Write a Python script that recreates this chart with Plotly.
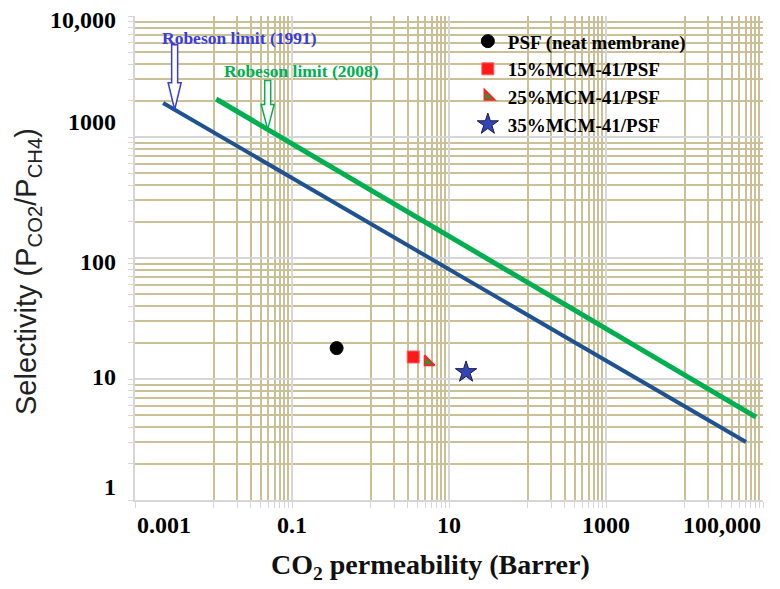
import numpy as np
import plotly.graph_objects as go

# ======================== data ========================
# Robeson upper bounds, CO2/CH4 (straight lines on log-log)
robeson1991_x = [0.00228, 60700]
robeson1991_y = [1910, 3.01]
robeson2008_x = [0.0108, 81500]
robeson2008_y = [2060, 4.85]

# membranes: CO2 permeability (Barrer) / selectivity
membrane_names = ["PSF (neat membrane)", "15%MCM-41/PSF", "25%MCM-41/PSF", "35%MCM-41/PSF"]
membrane_perm = [0.37, 3.5, 5.4, 16.5]
membrane_sel = [18.0, 15.2, 13.8, 11.4]

x_major = [0.001, 0.1, 10, 1000, 100000]
x_labels = ["0.001", "0.1", "10", "1000", "100,000"]
y_major = [1, 10, 100, 1000, 10000]
y_labels = ["1", "10", "100", "1000", "10,000"]

# minor grid like the original (base-100 axis on x, base-10 on y)
x_minor = [b * 10 * k for b in x_major[:-1] for k in range(1, 10)]
y_minor = [b * k for b in y_major[:-1] for k in range(2, 10)]

GRID_MAJOR = "#d6d6d6"
GRID_MINOR = "#cbbf95"
SERIF = "Liberation Serif"

fig = go.Figure()

# ======================== Robeson lines ========================
fig.add_trace(go.Scatter(
    x=robeson1991_x, y=robeson1991_y, mode="lines",
    line=dict(color="#1f5291", width=4), showlegend=False, hoverinfo="skip"
))
fig.add_trace(go.Scatter(
    x=robeson2008_x, y=robeson2008_y, mode="lines",
    line=dict(color="#00b050", width=5), showlegend=False, hoverinfo="skip"
))

# ======================== membrane points ========================
marker_styles = [
    dict(symbol="circle", size=13, color="black", line=dict(color="black", width=1)),
    dict(symbol="square", size=12, color="#ff1a1a", line=dict(color="#ff6060", width=1)),
    dict(symbol="triangle-sw", size=11, color="#10a040", line=dict(color="#ff2020", width=2)),
    dict(symbol="star", size=16, color="#3344bb", line=dict(color="#1a1a40", width=1)),
]
for name, px_, sy, mk in zip(membrane_names, membrane_perm, membrane_sel, marker_styles):
    fig.add_trace(go.Scatter(
        x=[px_], y=[sy], mode="markers", name=name, marker=mk
    ))


# ======================== hollow arrows + labels ========================
def point_on_line(xs, ys, x):
    lx = np.log10(xs)
    ly = np.log10(ys)
    return x, 10 ** np.interp(np.log10(x), lx, ly)


def add_arrow(x, y, color, shaft_len, head_len):
    path = (f"M 0,0 L -6.5,{head_len} L -3,{head_len} L -3,{head_len + shaft_len} "
            f"L 3,{head_len + shaft_len} L 3,{head_len} L 6.5,{head_len} Z")
    fig.add_shape(
        type="path", xref="x", yref="y", xsizemode="pixel", ysizemode="pixel",
        xanchor=x, yanchor=y, path=path,
        fillcolor="white", line=dict(color=color, width=1.5), layer="above"
    )


ax1, ay1 = point_on_line(robeson1991_x, robeson1991_y, 0.0032)
ax2, ay2 = point_on_line(robeson2008_x, robeson2008_y, 0.049)
add_arrow(ax1, ay1, "#3a3ae0", 38, 27)
add_arrow(ax2, ay2, "#00b050", 24, 25)

fig.add_annotation(
    x=np.log10(ax1), y=np.log10(ay1), xref="x", yref="y",
    text="Robeson limit (1991)", showarrow=False, xshift=65, yshift=72,
    font=dict(family=SERIF, size=17.5, color="#3a3ae0", weight="bold")
)
fig.add_annotation(
    x=np.log10(ax2), y=np.log10(ay2), xref="x", yref="y",
    text="Robeson limit (2008)", showarrow=False, xshift=34, yshift=58,
    font=dict(family=SERIF, size=17.5, color="#00b050", weight="bold")
)

# tick labels sit a little off the gridlines in the original, so draw them as text
for i, (v, t) in enumerate(zip(x_major, x_labels)):
    anchor = "left" if i == 0 else ("right" if i == len(x_major) - 1 else "center")
    fig.add_annotation(
        x=np.log10(v), y=0, xref="x", yref="paper", yanchor="top", yshift=-10,
        xanchor=anchor, text=t, showarrow=False,
        font=dict(family=SERIF, size=24, color="black", weight="bold")
    )

y_label_shift = [13, 2, -4, 15, -4]
for v, t, dy in zip(y_major, y_labels, y_label_shift):
    fig.add_annotation(
        x=0, y=np.log10(v), xref="paper", yref="y", xanchor="right", xshift=-17,
        yanchor="middle", yshift=dy, text=t, showarrow=False,
        font=dict(family=SERIF, size=24, color="black", weight="bold")
    )

# axis titles
fig.add_annotation(
    x=0.47, y=0, xref="paper", yref="paper", yanchor="middle", yshift=-66,
    text="CO<sub>2</sub> permeability (Barrer)", showarrow=False,
    font=dict(family=SERIF, size=28, color="#111", weight="bold")
)
fig.add_annotation(
    x=0, y=0.471, xref="paper", yref="paper", xanchor="center", yanchor="middle",
    xshift=-107, textangle=-90,
    text="Selectivity (P<sub>CO2</sub>/P<sub>CH4</sub>)", showarrow=False,
    font=dict(family="Liberation Sans", size=29, color="#222")
)

# ======================== layout ========================
# page body adds an 8px offset, so the figure is 8px smaller than the window
fig.update_layout(
    width=772,
    height=581,
    paper_bgcolor="white",
    plot_bgcolor="white",
    margin=dict(l=127, r=17, t=8, b=89),
    legend=dict(
        x=0.53, y=0.987, xanchor="left", yanchor="top",
        bgcolor="rgba(0,0,0,0)", borderwidth=0,
        font=dict(family=SERIF, size=19, color="black", weight="bold"),
        itemwidth=30, tracegroupgap=0
    ),
    xaxis=dict(
        type="log", range=[-3, 5], automargin=False,
        tickvals=x_major, showticklabels=False,
        showgrid=True, gridcolor=GRID_MAJOR, gridwidth=2,
        ticks="outside", ticklen=6, tickcolor=GRID_MAJOR,
        showline=True, linecolor=GRID_MAJOR, linewidth=2,
        zeroline=False,
        minor=dict(tickvals=x_minor, showgrid=True, gridcolor=GRID_MINOR, gridwidth=2,
                   ticks="outside", ticklen=6, tickcolor=GRID_MAJOR),
    ),
    yaxis=dict(
        type="log", range=[0, 4], automargin=False,
        tickvals=y_major, showticklabels=False,
        showgrid=True, gridcolor=GRID_MAJOR, gridwidth=2,
        ticks="outside", ticklen=5, tickcolor=GRID_MAJOR,
        showline=True, linecolor=GRID_MAJOR, linewidth=2,
        zeroline=False,
        minor=dict(tickvals=y_minor, showgrid=True, gridcolor=GRID_MINOR, gridwidth=2,
                   ticks="outside", ticklen=5, tickcolor=GRID_MAJOR),
    ),
)

fig.write_html("out.html")
